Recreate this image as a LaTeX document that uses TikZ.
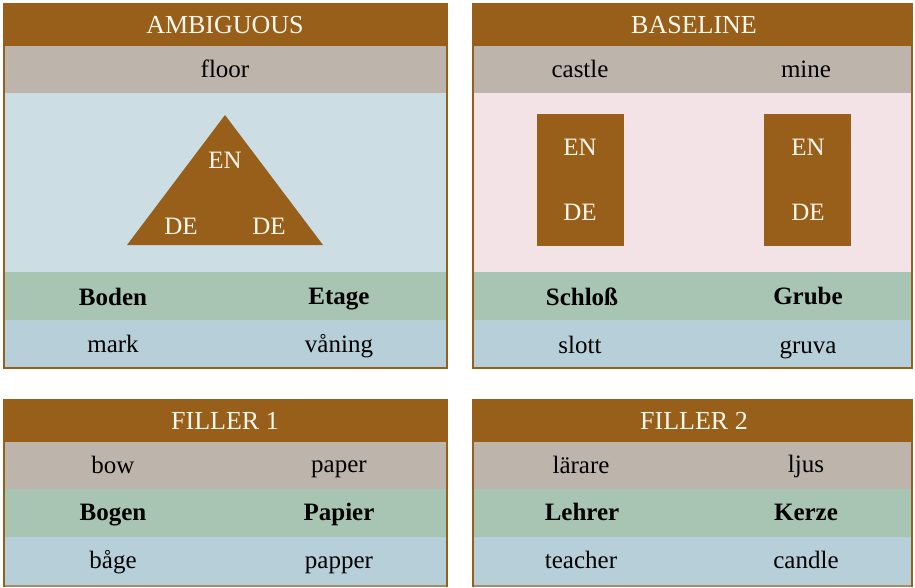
\documentclass[tikz,border=0pt]{standalone}
\usepackage{fontspec}
\setmainfont{Liberation Serif}
\definecolor{hdr}{HTML}{985F1A}
\definecolor{rowgrey}{HTML}{BDB4AB}
\definecolor{rowgreen}{HTML}{A8C5B3}
\definecolor{rowblue}{HTML}{B7CFD8}
\definecolor{areablue}{HTML}{CCDDE4}
\definecolor{areapink}{HTML}{F4E3E6}
\definecolor{hdrtext}{HTML}{FFF8EE}
\begin{document}
\begin{tikzpicture}[x=1pt,y=-1pt,
  band/.style={anchor=north west,inner sep=0pt,outer sep=0pt,draw=none},
  word/.style={anchor=base,inner sep=0pt,font=\fontsize{25}{27}\selectfont},
  bword/.style={word,font=\fontsize{25}{27}\selectfont\bfseries},
  title/.style={word,text=hdrtext,font=\fontsize{26}{28}\selectfont},
  tag/.style={word,text=hdrtext,font=\fontsize{25}{27}\selectfont},
  frame/.style={draw=hdr,line width=2pt}]
\useasboundingbox (0,0) rectangle (915,587);
\fill[white] (0,0) rectangle (915,587);

% ---------- panel: AMBIGUOUS ----------
\node[band,fill=hdr,minimum width=443pt,minimum height=42pt] (a-head) at (4,4) {};
\node[band,fill=rowgrey,minimum width=443pt,minimum height=47pt] (a-en) at (4,46) {};
\node[band,fill=areablue,minimum width=443pt,minimum height=179pt] (a-mid) at (4,93) {};
\node[band,fill=rowgreen,minimum width=443pt,minimum height=48pt] (a-de) at (4,272) {};
\node[band,fill=rowblue,minimum width=443pt,minimum height=47pt] (a-sv) at (4,320) {};
\draw[frame] (4,4) rectangle (447,368);
\node[title] (a-title) at (225,33) {AMBIGUOUS};
\node[word] (a-floor) at (225,77) {floor};
\fill[hdr] (225,115) -- (323,245) -- (127,245) -- cycle;
\node[tag] (a-en1) at (225,168) {EN};
\node[tag] (a-de1) at (181,234) {DE};
\node[tag] (a-de2) at (269,234) {DE};
\node[bword] (a-boden) at (113,305) {Boden};
\node[bword] (a-etage) at (339,304) {Etage};
\node[word] (a-mark) at (113,352) {mark};
\node[word] (a-vaning) at (339,352) {våning};

% ---------- panel: BASELINE ----------
\node[band,fill=hdr,minimum width=439pt,minimum height=42pt] (b-head) at (473,4) {};
\node[band,fill=rowgrey,minimum width=439pt,minimum height=47pt] (b-en) at (473,46) {};
\node[band,fill=areapink,minimum width=439pt,minimum height=179pt] (b-mid) at (473,93) {};
\node[band,fill=rowgreen,minimum width=439pt,minimum height=48pt] (b-de) at (473,272) {};
\node[band,fill=rowblue,minimum width=439pt,minimum height=47pt] (b-sv) at (473,320) {};
\draw[frame] (473,4) rectangle (912,368);
\node[title] (b-title) at (694,33) {BASELINE};
\node[word] (b-castle) at (580,77) {castle};
\node[word] (b-mine) at (806,77) {mine};
\node[band,fill=hdr,minimum width=87pt,minimum height=132pt] (b-box1) at (537,114) {};
\node[band,fill=hdr,minimum width=87pt,minimum height=132pt] (b-box2) at (764,114) {};
\node[tag] (b-en1) at (580,155) {EN};
\node[tag] (b-de1) at (580,220) {DE};
\node[tag] (b-en2) at (808,155) {EN};
\node[tag] (b-de2) at (808,220) {DE};
\node[bword] (b-schloss) at (582,305) {Schloß};
\node[bword] (b-grube) at (808,304) {Grube};
\node[word] (b-slott) at (580,353) {slott};
\node[word] (b-gruva) at (808,353) {gruva};

% ---------- panel: FILLER 1 ----------
\node[band,fill=hdr,minimum width=443pt,minimum height=42pt] (c-head) at (4,400) {};
\node[band,fill=rowgrey,minimum width=443pt,minimum height=47pt] (c-en) at (4,442) {};
\node[band,fill=rowgreen,minimum width=443pt,minimum height=48pt] (c-de) at (4,489) {};
\node[band,fill=rowblue,minimum width=443pt,minimum height=48pt] (c-sv) at (4,537) {};
\draw[frame] (4,587) -- (4,400) -- (447,400) -- (447,587);
\draw[hdr!60!rowblue,line width=2pt] (5,586) -- (446,586);
\node[title] (c-title) at (225,429) {FILLER 1};
\node[word] (c-bow) at (113,473) {bow};
\node[word] (c-paper) at (339,472) {paper};
\node[bword] (c-bogen) at (113,520) {Bogen};
\node[bword] (c-papier) at (339,520) {Papier};
\node[word] (c-bage) at (113,568) {båge};
\node[word] (c-papper) at (339,568) {papper};

% ---------- panel: FILLER 2 ----------
\node[band,fill=hdr,minimum width=439pt,minimum height=42pt] (d-head) at (473,400) {};
\node[band,fill=rowgrey,minimum width=439pt,minimum height=47pt] (d-en) at (473,442) {};
\node[band,fill=rowgreen,minimum width=439pt,minimum height=48pt] (d-de) at (473,489) {};
\node[band,fill=rowblue,minimum width=439pt,minimum height=48pt] (d-sv) at (473,537) {};
\draw[frame] (473,587) -- (473,400) -- (912,400) -- (912,587);
\draw[hdr!60!rowblue,line width=2pt] (474,586) -- (911,586);
\node[title] (d-title) at (694,429) {FILLER 2};
\node[word] (d-larare) at (581,473) {lärare};
\node[word] (d-ljus) at (806,472) {ljus};
\node[bword] (d-lehrer) at (582,520) {Lehrer};
\node[bword] (d-kerze) at (806,520) {Kerze};
\node[word] (d-teacher) at (581,568) {teacher};
\node[word] (d-candle) at (806,568) {candle};
\end{tikzpicture}
\end{document}
